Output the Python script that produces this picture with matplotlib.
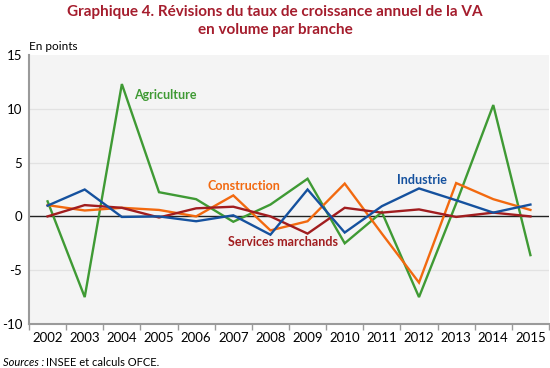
import numpy as np
import matplotlib
matplotlib.use("Agg")
import matplotlib.pyplot as plt

plt.rcParams['font.family'] = ['Lato', 'DejaVu Sans']

years = [str(y) for y in range(2002, 2016)]
agriculture = [1.4, -7.5, 12.3, 2.25, 1.6, -0.5, 1.1, 3.5, -2.5, 0.4, -7.5, 1.2, 10.35, -3.6]
industrie = [1.0, 2.5, -0.05, 0.0, -0.45, 0.1, -1.7, 2.5, -1.5, 0.95, 2.6, 1.5, 0.35, 1.1]
construction = [1.05, 0.55, 0.8, 0.6, 0.0, 1.95, -1.3, -0.45, 3.05, -1.6, -6.15, 3.1, 1.6, 0.6]
services = [0.0, 1.05, 0.8, -0.1, 0.75, 0.9, 0.0, -1.6, 0.8, 0.35, 0.65, -0.05, 0.35, 0.0]

GREEN = "#3f9a34"
BLUE = "#15519e"
ORANGE = "#f2690f"
RED = "#a11d1f"
TITLE = "#a51d2d"

fig = plt.figure(figsize=(5.5, 3.68), dpi=100)
ax = fig.add_axes([29/550, 44/368, 520/550, 269/368])
ax.set_facecolor("#f4f4f4")

x = np.arange(len(years))
for vals, c in [(agriculture, GREEN), (construction, ORANGE), (services, RED), (industrie, BLUE)]:
    ax.plot(x, vals, color=c, lw=1.7, solid_joinstyle="miter", zorder=3)

ax.axhline(0, color="#222222", lw=1.0, zorder=2)
for g in (-5, 5, 10):
    ax.axhline(g, color="#e2e2e2", lw=0.9, zorder=1)

ax.set_xlim(-0.5, len(years) - 0.5)
ax.set_ylim(-10, 15)
ax.set_yticks([-10, -5, 0, 5, 10, 15])
ax.set_yticklabels(["-10", "-5", "0", "5", "10", "15"])
ax.tick_params(axis="y", length=0, pad=5, labelsize=9.5)

ax.set_xticks(x)
ax.set_xticklabels(years)
ax.set_xticks(np.arange(len(years) + 1) - 0.5, minor=True)
ax.tick_params(axis="x", which="major", length=0, pad=6, labelsize=9.5)
ax.tick_params(axis="x", which="minor", length=4, color="#9a9a9a", width=1)

for s in ("top", "right"):
    ax.spines[s].set_visible(False)
for s in ("left", "bottom"):
    ax.spines[s].set_color("#9a9a9a")
    ax.spines[s].set_linewidth(1.5)

# series labels
ax.text(2.34, 11.3, "Agriculture", color=GREEN, fontsize=9, fontweight="bold", va="center")
ax.text(4.3, 2.85, "Construction", color=ORANGE, fontsize=9, fontweight="bold", va="center")
ax.text(9.4, 3.35, "Industrie", color=BLUE, fontsize=9, fontweight="bold", va="center")
ax.text(4.85, -2.4, "Services marchands", color=RED, fontsize=9, fontweight="bold", va="center")

fig.text(0.5, 1 - 12/368, "Graphique 4. Révisions du taux de croissance annuel de la VA",
         ha="center", va="center", color=TITLE, fontsize=11, fontweight="bold")
fig.text(0.5, 1 - 30/368, "en volume par branche",
         ha="center", va="center", color=TITLE, fontsize=11, fontweight="bold")
fig.text(29/550, 1 - 46/368, "En points", ha="left", va="center", fontsize=8.5)

fig.text(3/550, 1 - 362/368, "Sources :", ha="left", va="center", fontsize=8, style="italic")
fig.text(46/550, 1 - 362/368, "INSEE et calculs OFCE.", ha="left", va="center", fontsize=8)

fig.savefig("out.png", dpi=100)
